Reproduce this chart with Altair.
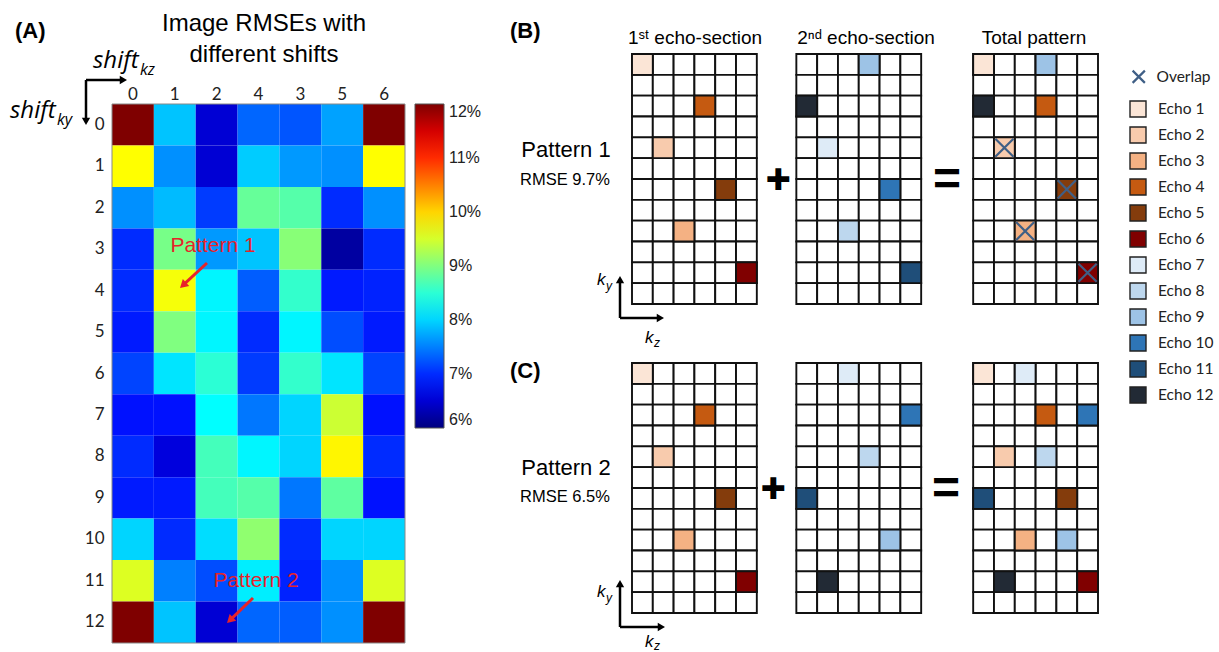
import math
import altair as alt
import pandas as pd

# ---------------- data ----------------
SHIFT_KZ_LABELS = ["0", "1", "2", "4", "3", "5", "6"]
SHIFT_KY_LABELS = [str(i) for i in range(13)]
RMSE = [
    [12.0, 7.9, 6.5, 7.35, 7.25, 7.7, 12.0],
    [9.75, 7.6, 6.5, 7.95, 7.65, 7.6, 9.75],
    [7.6, 7.85, 7.1, 8.85, 8.75, 7.0, 7.6],
    [7.0, 8.95, 7.65, 7.9, 9.05, 6.2, 7.0],
    [7.0, 9.7, 8.2, 7.3, 8.55, 6.9, 6.95],
    [6.9, 9.0, 8.2, 7.0, 8.2, 7.2, 6.9],
    [7.15, 8.1, 8.5, 7.1, 8.55, 8.1, 7.15],
    [6.85, 6.85, 8.25, 7.45, 8.0, 9.45, 6.85],
    [7.0, 6.55, 8.65, 8.2, 8.0, 9.8, 7.0],
    [6.9, 6.9, 8.65, 8.75, 7.45, 8.8, 6.85],
    [8.0, 7.0, 8.05, 9.1, 7.0, 8.0, 8.0],
    [9.55, 7.5, 7.2, 8.15, 6.95, 7.6, 9.55],
    [12.0, 7.9, 6.5, 7.35, 7.3, 7.6, 12.0],
]
COLORBAR_TICKS = [6, 7, 8, 9, 10, 11, 12]
JET_STOPS = [6.0, 6.75, 8.25, 9.75, 11.25, 12.0]
JET_COLORS = ["#00007f", "#0000ff", "#00ffff", "#ffff00", "#ff0000", "#7f0000"]

ECHO_NAMES = [f"Echo {i}" for i in range(1, 13)]
ECHO_COLORS = ["#fbe5d6", "#f8cbad", "#f4b183", "#c55a11", "#843c0c", "#800000",
               "#deebf7", "#bdd7ee", "#9dc3e6", "#2e75b6", "#1f4e79", "#222a35"]
SECTION_TITLES = ["1ˢᵗ echo-section", "2ⁿᵈ echo-section", "Total pattern"]

N_ROWS, N_COLS = 12, 6
# echoes 1-6 (first echo-section), (row from top, column)
SEC1_ROWS = [0, 4, 8, 2, 6, 10]
SEC1_COLS = [0, 1, 2, 3, 4, 5]
# echoes 7-12 (second echo-section)
P1_SEC2_ROWS = [4, 8, 0, 6, 10, 2]
P1_SEC2_COLS = [1, 2, 3, 4, 5, 0]
P2_SEC2_ROWS = [0, 4, 8, 2, 6, 10]
P2_SEC2_COLS = [2, 3, 4, 5, 0, 1]
PATTERN_NAMES = ["Pattern 1", "Pattern 2"]
PATTERN_RMSE = ["RMSE 9.7%", "RMSE 6.5%"]

# ---------------- styling ----------------
ARIAL = "Liberation Sans"
HUMAN = "Lato"
RED = "#e8232a"
XCOL = "#3f5f86"
XPATH = "M-1,-1L1,1M-1,1L1,-1"
SECTION_OFFSETS = [0.0, 7.9, 16.4]
XMAX = 22.4
ONE = alt.Data(values=[{}])


def txt(text, x, y, size, font=ARIAL, weight="normal", style="normal",
        align="center", baseline="middle", color="black"):
    return alt.Chart(ONE).mark_text(
        text=text, font=font, fontSize=size, fontWeight=weight, fontStyle=style,
        align=align, baseline=baseline, color=color
    ).encode(x=alt.value(x), y=alt.value(y))


def line(x1, y1, x2, y2, color, width):
    return alt.Chart(ONE).mark_rule(color=color, strokeWidth=width).encode(
        x=alt.value(x1), y=alt.value(y1), x2=alt.value(x2), y2=alt.value(y2))


def arrow(x1, y1, x2, y2, color, width, size):
    dx, dy = x2 - x1, y2 - y1
    L = math.hypot(dx, dy)
    ux, uy = dx / L, dy / L
    h = math.sqrt(size) * 0.866
    cx, cy = x2 - ux * h / 2, y2 - uy * h / 2
    ang = math.degrees(math.atan2(dx, -dy)) % 360
    head = alt.Chart(ONE).mark_point(
        shape="triangle-up", filled=True, color=color, size=size, angle=ang, opacity=1
    ).encode(x=alt.value(cx), y=alt.value(cy))
    return [line(x1, y1, x2 - ux * h * 0.6, y2 - uy * h * 0.6, color, width), head]


# ---------------- panel A ----------------
heat_rows = []
for i, ky in enumerate(SHIFT_KY_LABELS):
    for j, kz in enumerate(SHIFT_KZ_LABELS):
        heat_rows.append({"ky": ky, "kz": kz, "rmse": RMSE[i][j]})
heat_df = pd.DataFrame(heat_rows)

heat = alt.Chart(heat_df).mark_rect().encode(
    x=alt.X("kz:N", sort=SHIFT_KZ_LABELS, scale=alt.Scale(paddingInner=0, paddingOuter=0),
            axis=alt.Axis(orient="top", title=None, labelAngle=0, ticks=False, domain=False,
                          labelFont=HUMAN, labelFontSize=17, labelPadding=1, labelColor="#222")),
    y=alt.Y("ky:N", sort=SHIFT_KY_LABELS, scale=alt.Scale(paddingInner=0, paddingOuter=0),
            axis=alt.Axis(title=None, ticks=False, domain=False, labelFont=HUMAN,
                          labelFontSize=17, labelPadding=8, labelColor="#222")),
    color=alt.Color("rmse:Q",
                    scale=alt.Scale(domain=JET_STOPS, range=JET_COLORS, interpolate="rgb", clamp=True),
                    legend=alt.Legend(title=None, orient="none", legendX=303, legendY=0,
                                      direction="vertical", type="gradient",
                                      gradientLength=324, gradientThickness=29,
                                      gradientStrokeColor="#555", gradientStrokeWidth=1,
                                      values=COLORBAR_TICKS, labelExpr="datum.value + '%'",
                                      labelFont=ARIAL, labelFontSize=16, labelOffset=5,
                                      labelColor="#222")),
)

frame = alt.Chart(ONE).mark_rect(fillOpacity=0, stroke="#888", strokeWidth=1).encode(
    x=alt.value(0), x2=alt.value(293), y=alt.value(0), y2=alt.value(539))
anchor = alt.Chart(ONE).mark_rule(opacity=0, strokeWidth=0).encode(
    x=alt.value(-112), x2=alt.value(-112), y=alt.value(-104), y2=alt.value(-104))

a_layers = [anchor, heat, frame,
            txt("(A)", -97, -66, 22, weight="bold", align="left", baseline="alphabetic"),
            txt("Image RMSEs with", 152, -73, 24, baseline="alphabetic"),
            txt("different shifts", 152, -42, 24, baseline="alphabetic"),
            txt("shift", -19, -36, 24, font="Open Sans", style="italic", align="left", baseline="alphabetic"),
            txt("kz", 28, -29, 16, font="Open Sans", style="italic", align="left", baseline="alphabetic"),
            txt("shift", -102, 14, 24, font="Open Sans", style="italic", align="left", baseline="alphabetic"),
            txt("ky", -55, 21, 16, font="Open Sans", style="italic", align="left", baseline="alphabetic"),
            txt(PATTERN_NAMES[0], 101, 142, 21, color=RED),
            txt(PATTERN_NAMES[1], 144, 477, 21, color=RED)]
a_layers += arrow(-26, -24, -26, 21, "black", 2.5, 70)
a_layers += arrow(-26, -24, 15, -24, "black", 2.5, 70)
a_layers += arrow(95, 159, 68, 184, RED, 3, 90)
a_layers += arrow(141, 494, 115, 519, RED, 3, 90)

panel_a = alt.layer(*a_layers).properties(width=293, height=539)


# ---------------- panels B, C ----------------
def pattern_tables(sec2_rows, sec2_cols):
    cells = []
    for off in SECTION_OFFSETS:
        for r in range(N_ROWS):
            for c in range(N_COLS):
                cells.append({"x": off + c, "x2": off + c + 1, "y": r, "y2": r + 1})
    echoes, overlaps, first = [], [], {}
    for i, (r, c) in enumerate(zip(SEC1_ROWS, SEC1_COLS)):
        first[(r, c)] = ECHO_NAMES[i]
        for s in (0, 2):
            off = SECTION_OFFSETS[s]
            echoes.append({"x": off + c, "x2": off + c + 1, "y": r, "y2": r + 1, "echo": ECHO_NAMES[i]})
    for i, (r, c) in enumerate(zip(sec2_rows, sec2_cols)):
        name = ECHO_NAMES[6 + i]
        off = SECTION_OFFSETS[1]
        echoes.append({"x": off + c, "x2": off + c + 1, "y": r, "y2": r + 1, "echo": name})
        off = SECTION_OFFSETS[2]
        if (r, c) in first:
            overlaps.append({"xc": off + c + 0.5, "yc": r + 0.5, "kind": "Overlap"})
        else:
            echoes.append({"x": off + c, "x2": off + c + 1, "y": r, "y2": r + 1, "echo": name})
    return pd.DataFrame(cells), pd.DataFrame(echoes), pd.DataFrame(overlaps)


def pattern_chart(sec2_rows, sec2_cols, y_range, height, extra, with_legend):
    cells, echoes, overlaps = pattern_tables(sec2_rows, sec2_cols)
    xs = alt.Scale(domain=[0, XMAX], nice=False, zero=False)
    ys = alt.Scale(domain=[0, N_ROWS], range=y_range, nice=False, zero=False)
    grid = alt.Chart(cells).mark_rect(fill="white", stroke="#111", strokeWidth=1.9).encode(
        x=alt.X("x:Q", scale=xs, axis=None), x2=alt.X2("x2"),
        y=alt.Y("y:Q", scale=ys, axis=None), y2=alt.Y2("y2"))
    if with_legend:
        leg = alt.Legend(title=None, orient="none", legendX=497, legendY=-4,
                         symbolType="square", symbolSize=256, symbolStrokeColor="#222",
                         symbolStrokeWidth=1.4, labelFont=HUMAN, labelFontSize=15.5,
                         labelOffset=11, rowPadding=4, labelColor="#222")
    else:
        leg = None
    echo = alt.Chart(echoes).mark_rect(stroke="#111", strokeWidth=1.9, opacity=1).encode(
        x=alt.X("x:Q", scale=xs, axis=None), x2=alt.X2("x2"),
        y=alt.Y("y:Q", scale=ys, axis=None), y2=alt.Y2("y2"),
        color=alt.Color("echo:N", scale=alt.Scale(domain=ECHO_NAMES, range=ECHO_COLORS), legend=leg))
    layers = [grid, echo]
    if len(overlaps):
        ov = alt.Chart(overlaps).mark_point(filled=False, size=330, strokeWidth=2.2, color=XCOL, opacity=1).encode(
            x=alt.X("xc:Q", scale=xs, axis=None), y=alt.Y("yc:Q", scale=ys, axis=None),
            shape=alt.Shape("kind:N", scale=alt.Scale(domain=["Overlap"], range=[XPATH]),
                            legend=alt.Legend(title=None, orient="none", legendX=499, legendY=-35,
                                              symbolSize=150, symbolStrokeColor=XCOL,
                                              symbolStrokeWidth=2.2, labelFont=HUMAN,
                                              labelFontSize=15.5, labelOffset=10, labelColor="#222")))
        layers.append(ov)
    return alt.layer(*(layers + extra)).properties(width=466, height=height)


b_extra = [txt("(B)", -122, -66, 22, weight="bold", align="left", baseline="alphabetic"),
           txt(SECTION_TITLES[0], 63, -66, 19),
           txt(SECTION_TITLES[1], 234, -66, 19),
           txt(SECTION_TITLES[2], 402, -66, 19),
           txt(PATTERN_NAMES[0], -66, 46, 22),
           txt(PATTERN_RMSE[0], -67, 76, 16.5),
           txt("✚", 146, 77, 30, font="DejaVu Sans"),
           txt("=", 315, 77, 48, weight="bold"),
           txt("k", -35, 181, 17, style="italic", align="left", baseline="alphabetic"),
           txt("y", -26, 186, 12, style="italic", align="left", baseline="alphabetic"),
           txt("k", 13, 239, 17, style="italic", align="left", baseline="alphabetic"),
           txt("z", 22, 243, 12, style="italic", align="left", baseline="alphabetic")]
b_extra += arrow(-12, 214, -12, 172, "black", 2.5, 70)
b_extra += arrow(-12, 214, 32, 214, "black", 2.5, 70)

c_extra = [txt("(C)", -122, 15, 22, weight="bold", align="left", baseline="alphabetic"),
           txt(PATTERN_NAMES[1], -66, 105, 22),
           txt(PATTERN_RMSE[1], -67, 134, 16.5),
           txt("✚", 141, 127, 30, font="DejaVu Sans"),
           txt("=", 314, 127, 48, weight="bold"),
           txt("k", -35, 234, 17, style="italic", align="left", baseline="alphabetic"),
           txt("y", -26, 239, 12, style="italic", align="left", baseline="alphabetic"),
           txt("k", 13, 284, 17, style="italic", align="left", baseline="alphabetic"),
           txt("z", 22, 287, 12, style="italic", align="left", baseline="alphabetic")]
c_extra += arrow(-12, 264, -12, 217, "black", 2.5, 70)
c_extra += arrow(-12, 264, 33, 264, "black", 2.5, 70)

panel_b = pattern_chart(P1_SEC2_ROWS, P1_SEC2_COLS, [-50, 200], 200, b_extra, True)
panel_c = pattern_chart(P2_SEC2_ROWS, P2_SEC2_COLS, [0, 250], 250, c_extra, False)

panel_bc = alt.vconcat(panel_b, panel_c, spacing=59, bounds="flush").resolve_scale(
    color="independent", shape="independent", x="independent", y="independent")

chart = alt.hconcat(panel_a, panel_bc, spacing=227, bounds="flush").resolve_scale(
    color="independent", shape="independent"
).properties(padding=0, background="white").configure_view(strokeWidth=0)

chart.save("out.html", embed_options={"renderer": "svg", "actions": False})
